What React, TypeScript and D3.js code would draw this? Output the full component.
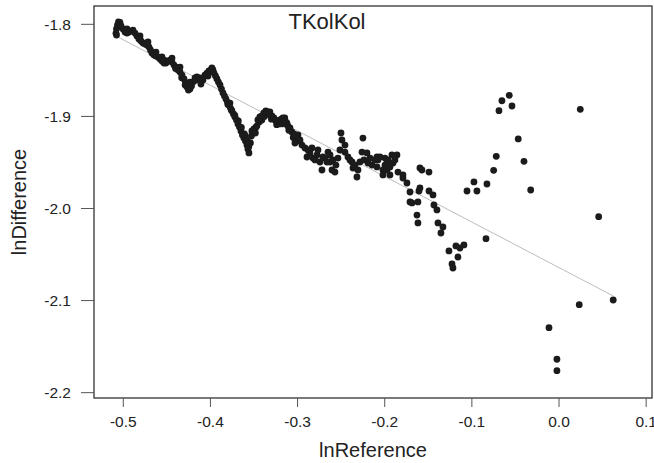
import React from "react";
import * as d3 from "d3";

const WIDTH = 654;
const HEIGHT = 463;

const chartTitle = "TKolKol";
const xTitle = "lnReference";
const yTitle = "lnDifference";

const xTicks = [-0.5, -0.4, -0.3, -0.2, -0.1, 0.0, 0.1];
const yTicks = [-1.8, -1.9, -2.0, -2.1, -2.2];

// Least-squares fit of lnDifference on lnReference
const fitIntercept = -2.0642;
const fitSlope = -0.4948;

// [lnReference, lnDifference]
const observations: [number, number][] = [
  [-0.5084, -1.8098], [-0.5078, -1.8116], [-0.5078, -1.8051], [-0.5067, -1.8008],
  [-0.5055, -1.7975], [-0.5038, -1.798], [-0.5026, -1.8018], [-0.5003, -1.8051],
  [-0.498, -1.8084], [-0.4958, -1.8095], [-0.4958, -1.8051], [-0.4935, -1.8084],
  [-0.4912, -1.8073], [-0.4889, -1.8062], [-0.4866, -1.8095], [-0.4843, -1.8127],
  [-0.4808, -1.8127], [-0.482, -1.816], [-0.4797, -1.8181], [-0.4774, -1.8203],
  [-0.4751, -1.8214], [-0.4728, -1.8225], [-0.4717, -1.8192], [-0.4705, -1.8247],
  [-0.4688, -1.8279], [-0.4671, -1.8312], [-0.4648, -1.8333], [-0.4625, -1.8301],
  [-0.4625, -1.8344], [-0.4602, -1.8355], [-0.4579, -1.8377], [-0.4556, -1.8355],
  [-0.4556, -1.8399], [-0.4533, -1.842], [-0.453, -1.839], [-0.451, -1.842],
  [-0.4487, -1.8399], [-0.4464, -1.8388], [-0.4441, -1.8366], [-0.4441, -1.8409],
  [-0.4418, -1.8442], [-0.44, -1.848], [-0.4395, -1.8464], [-0.4372, -1.8496],
  [-0.4349, -1.8464], [-0.4349, -1.8518], [-0.433, -1.858], [-0.4326, -1.8551],
  [-0.4303, -1.8594], [-0.429, -1.866], [-0.4286, -1.8637], [-0.4269, -1.8681],
  [-0.4252, -1.8713], [-0.4235, -1.8702], [-0.4235, -1.8627], [-0.4217, -1.867],
  [-0.42, -1.8627], [-0.418, -1.861], [-0.4177, -1.8583], [-0.4155, -1.8572],
  [-0.4132, -1.8605], [-0.412, -1.8583], [-0.4109, -1.8648], [-0.4086, -1.8605],
  [-0.4063, -1.8551], [-0.404, -1.8529], [-0.4028, -1.8561], [-0.4017, -1.8507],
  [-0.3994, -1.8496], [-0.3983, -1.8474], [-0.3971, -1.8496], [-0.3959, -1.8529],
  [-0.3942, -1.8561], [-0.3925, -1.8594], [-0.3908, -1.8627], [-0.389, -1.8659],
  [-0.3873, -1.8703], [-0.3856, -1.8746], [-0.3839, -1.8779], [-0.3822, -1.8811],
  [-0.3805, -1.8844], [-0.38, -1.887], [-0.3776, -1.8855], [-0.3787, -1.8876],
  [-0.377, -1.8909], [-0.376, -1.893], [-0.3753, -1.8941], [-0.3736, -1.8974],
  [-0.372, -1.899], [-0.3719, -1.9006], [-0.3701, -1.9039], [-0.368, -1.905],
  [-0.3684, -1.9082], [-0.3667, -1.9115], [-0.3645, -1.912], [-0.365, -1.9158],
  [-0.3633, -1.9202], [-0.361, -1.919], [-0.3616, -1.9234], [-0.3604, -1.9213],
  [-0.3598, -1.9267], [-0.358, -1.926], [-0.3581, -1.931], [-0.356, -1.933],
  [-0.357, -1.9354], [-0.3558, -1.9397], [-0.3541, -1.9289], [-0.353, -1.9213],
  [-0.3524, -1.9158], [-0.3501, -1.9137], [-0.3484, -1.918], [-0.348, -1.912],
  [-0.3467, -1.9104], [-0.3456, -1.9039], [-0.344, -1.906], [-0.3433, -1.9006],
  [-0.341, -1.8995], [-0.341, -1.9039], [-0.3387, -1.8963], [-0.338, -1.9],
  [-0.3364, -1.8941], [-0.3341, -1.8952], [-0.3318, -1.8985], [-0.3318, -1.8952],
  [-0.33, -1.903], [-0.3295, -1.8995], [-0.3272, -1.9017], [-0.3249, -1.905],
  [-0.324, -1.909], [-0.3227, -1.906], [-0.3204, -1.9039], [-0.3204, -1.9082],
  [-0.3181, -1.9028], [-0.317, -1.908], [-0.3158, -1.905], [-0.3147, -1.9017],
  [-0.3135, -1.906], [-0.3112, -1.9104], [-0.31, -1.915], [-0.3089, -1.9147],
  [-0.3066, -1.9169], [-0.305, -1.923], [-0.3043, -1.9191], [-0.302, -1.9213],
  [-0.2997, -1.9256], [-0.2974, -1.9267],
  [-0.3168, -1.9017], [-0.3122, -1.9072], [-0.3087, -1.9126], [-0.303, -1.9202],
  [-0.2996, -1.9202], [-0.2973, -1.9256], [-0.303, -1.9289], [-0.295, -1.9311],
  [-0.2915, -1.9343], [-0.2892, -1.9441], [-0.2881, -1.9365], [-0.2858, -1.9397],
  [-0.2835, -1.9343], [-0.2823, -1.9452], [-0.28, -1.9473], [-0.2777, -1.9419],
  [-0.2766, -1.9365], [-0.2743, -1.9495], [-0.272, -1.9582], [-0.2709, -1.9441],
  [-0.2686, -1.9452], [-0.2663, -1.9495], [-0.2651, -1.9387], [-0.2628, -1.9419],
  [-0.2628, -1.9495], [-0.2605, -1.9582], [-0.2594, -1.9473], [-0.2571, -1.9604],
  [-0.256, -1.9528], [-0.2537, -1.9452], [-0.2514, -1.9365], [-0.2502, -1.918],
  [-0.2491, -1.9256], [-0.2456, -1.9311], [-0.2456, -1.9387], [-0.2422, -1.9441],
  [-0.2399, -1.9473], [-0.2376, -1.9495], [-0.2364, -1.956], [-0.2341, -1.9528],
  [-0.2319, -1.9658], [-0.2307, -1.9582], [-0.2284, -1.9495], [-0.2261, -1.9387],
  [-0.225, -1.9235], [-0.2238, -1.9473], [-0.2204, -1.9397], [-0.2192, -1.9506],
  [-0.2169, -1.9452], [-0.2146, -1.9528], [-0.2112, -1.9473], [-0.2089, -1.9441],
  [-0.2089, -1.9549], [-0.2078, -1.9473], [-0.2055, -1.9441], [-0.202, -1.9582],
  [-0.202, -1.9636], [-0.1997, -1.9528], [-0.1997, -1.9452], [-0.1974, -1.9506],
  [-0.1974, -1.9582], [-0.1963, -1.9473], [-0.194, -1.9549], [-0.194, -1.9636],
  [-0.1917, -1.9419], [-0.1905, -1.9506], [-0.1883, -1.9473], [-0.186, -1.9419],
  [-0.1848, -1.9604], [-0.1791, -1.9636], [-0.1791, -1.9669], [-0.1745, -1.9723],
  [-0.171, -1.9821], [-0.171, -1.9929], [-0.1687, -1.994], [-0.163, -2.0071],
  [-0.1619, -2.0157], [-0.1619, -1.9929], [-0.1607, -1.981], [-0.1596, -1.9777],
  [-0.1596, -1.956], [-0.1573, -1.9582], [-0.1492, -1.9604], [-0.1492, -1.981],
  [-0.1446, -1.9853], [-0.1435, -1.9962], [-0.1401, -2.0016], [-0.1389, -2.0157],
  [-0.1332, -2.0201], [-0.1355, -2.0266], [-0.1263, -2.0461], [-0.1183, -2.0407],
  [-0.1137, -2.0429], [-0.1091, -2.0396], [-0.116, -2.0527], [-0.1228, -2.0603],
  [-0.1217, -2.0646], [-0.1056, -1.981], [-0.0976, -1.9712], [-0.0942, -1.981],
  [-0.0827, -1.9734], [-0.0838, -2.0328], [-0.075, -1.9585], [-0.072, -1.9433],
  [-0.0689, -1.8938], [-0.0655, -1.883], [-0.0571, -1.8771], [-0.054, -1.8887],
  [-0.0468, -1.9245], [-0.0402, -1.9488], [-0.0325, -1.9799], [-0.0115, -2.1294],
  [-0.0024, -2.1637], [-0.0024, -2.1761], [0.0232, -2.1045], [0.0244, -1.8923],
  [0.0455, -2.0089], [0.0622, -2.0994],
];

const frame = { left: 94, top: 6, right: 652, bottom: 398 };
const font = "'Liberation Sans', Arial, Helvetica, sans-serif";

export default function App() {
  const x = d3.scaleLinear().domain([-0.5336, 0.1067]).range([frame.left, frame.right]);
  const y = d3.scaleLinear().domain([-2.2058, -1.7801]).range([frame.bottom, frame.top]);

  const [xMin, xMax] = d3.extent(observations, (d) => d[0]) as [number, number];
  const fitLine = d3.line<number>()
    .x((v) => x(v))
    .y((v) => y(fitIntercept + fitSlope * v))([xMin, xMax]);

  return (
    <svg
      width={WIDTH}
      height={HEIGHT}
      style={{ position: "absolute", left: 0, top: 0, background: "#fff" }}
      fontFamily={font}
    >
      <rect x={0} y={0} width={WIDTH} height={HEIGHT} fill="#fff" />

      {/* fitted line */}
      <path d={fitLine ?? ""} fill="none" stroke="#bdbdbd" strokeWidth={1} />

      {/* observations */}
      <g fill="#1b1b1b">
        {observations.map((d, i) => (
          <circle key={i} cx={x(d[0])} cy={y(d[1])} r={3.4} />
        ))}
      </g>

      {/* plot box */}
      <rect
        x={frame.left}
        y={frame.top}
        width={frame.right - frame.left}
        height={frame.bottom - frame.top}
        fill="none"
        stroke="#222"
        strokeWidth={1.2}
      />

      {/* x axis */}
      <g>
        {xTicks.map((t) => (
          <g key={t} transform={`translate(${x(t)},0)`}>
            <line y1={frame.bottom} y2={frame.bottom + 9} stroke="#555" strokeWidth={1} />
            <text y={frame.bottom + 29} textAnchor="middle" fontSize={15.5} fill="#222">
              {t.toFixed(1)}
            </text>
          </g>
        ))}
      </g>

      {/* y axis */}
      <g>
        {yTicks.map((t) => (
          <g key={t} transform={`translate(0,${y(t)})`}>
            <line x1={frame.left - 13} x2={frame.left} stroke="#555" strokeWidth={1} />
            <text x={frame.left - 23} dy="0.35em" textAnchor="end" fontSize={15.5} fill="#222">
              {t.toFixed(1)}
            </text>
          </g>
        ))}
      </g>

      <text x={(frame.left + frame.right) / 2} y={457} textAnchor="middle" fontSize={20} fill="#222">
        {xTitle}
      </text>
      <text
        transform={`translate(26,${(frame.top + frame.bottom) / 2}) rotate(-90)`}
        textAnchor="middle"
        fontSize={20}
        fill="#222"
      >
        {yTitle}
      </text>
      <text x={327} y={29} textAnchor="middle" fontSize={22} fill="#222">
        {chartTitle}
      </text>
    </svg>
  );
}
